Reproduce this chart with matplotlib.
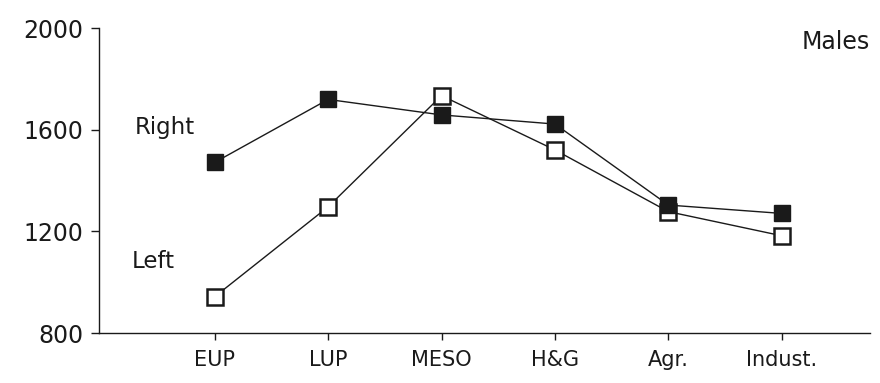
import matplotlib
matplotlib.use("Agg")
import matplotlib.pyplot as plt

categories = ["EUP", "LUP", "MESO", "H&G", "Agr.", "Indust."]
right_vals = [1472, 1720, 1659, 1623, 1304, 1271]
left_vals = [943, 1297, 1735, 1521, 1278, 1183]
yticks = [800, 1200, 1600, 2000]

plt.rcParams['font.family'] = ['DejaVu Sans']
fig = plt.figure(figsize=(8.8, 3.83), dpi=100)
ax = fig.add_axes([0.1125, 0.1305, 0.8765, 0.7955])

x = list(range(len(categories)))
ink = '#1a1a1a'
ax.plot(x, left_vals, color=ink, lw=1.0, marker='s', markersize=11,
        markerfacecolor='white', markeredgecolor=ink, markeredgewidth=1.8, zorder=3)
ax.plot(x, right_vals, color=ink, lw=1.0, marker='s', markersize=11,
        markerfacecolor=ink, markeredgecolor=ink, markeredgewidth=1.0, zorder=4)

ax.set_xlim(-1.02, 5.78)
ax.set_ylim(800, 2000)
ax.set_yticks(yticks)
ax.set_yticklabels([str(v) for v in yticks], fontsize=17, color=ink)
ax.set_xticks(x)
ax.set_xticklabels(categories, fontsize=15, color=ink)
ax.tick_params(axis='y', direction='out', length=6, width=1, pad=5, colors=ink)
ax.tick_params(axis='x', direction='out', length=5, width=1, pad=7, colors=ink)
for s in ['top', 'right']:
    ax.spines[s].set_visible(False)
for s in ['left', 'bottom']:
    ax.spines[s].set_color(ink)
    ax.spines[s].set_linewidth(1.0)

ax.text(-0.705, 1611, "Right", fontsize=16.5, color=ink, ha='left', va='center')
ax.text(-0.73, 1080, "Left", fontsize=16.5, color=ink, ha='left', va='center')
ax.text(5.78, 1946, "Males", fontsize=17, color=ink, ha='right', va='center')

fig.savefig("out.png", dpi=100)
